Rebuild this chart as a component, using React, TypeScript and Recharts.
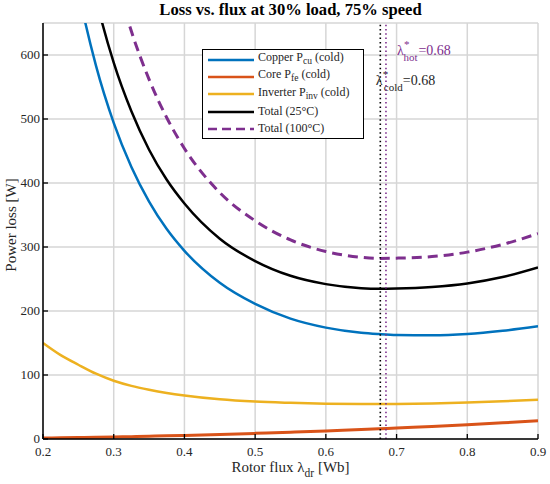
import React from 'react';
import { LineChart, Line, XAxis, YAxis, CartesianGrid, ReferenceLine, Legend } from 'recharts';

const flux = [0.2, 0.225, 0.25, 0.275, 0.3, 0.325, 0.35, 0.375, 0.4, 0.45, 0.5, 0.55, 0.6, 0.65, 0.675, 0.7, 0.75, 0.8, 0.85, 0.9];
const copperCold = [1086, 861, 701, 583, 494, 425, 371, 328, 294, 244, 211, 188, 174, 166, 164, 162.6, 162, 164, 169, 176];
const coreCold = [1.4, 1.8, 2.2, 2.6, 3.2, 3.7, 4.3, 4.9, 5.6, 7.1, 8.8, 10.6, 12.6, 14.8, 15.9, 17.2, 19.7, 22.4, 25.3, 28.5];
const inverterCold = [150, 131, 116, 102, 91, 83, 77, 72, 68, 62, 58.5, 56.5, 55, 54.5, 54.6, 54.8, 55.5, 57, 59, 61.5];
const total25 = [1237, 994, 819, 688, 588, 512, 452, 405, 368, 313, 278, 255, 242, 235.6, 234.6, 235, 237.5, 243, 253, 268];
const total100 = [1558, 1248, 1026, 860, 734, 637, 562, 502, 454, 385, 341, 311, 293, 284, 282.2, 282.6, 285, 292, 304, 321];

const xTicks = [0.2, 0.3, 0.4, 0.5, 0.6, 0.7, 0.8, 0.9];
const yTicks = [0, 100, 200, 300, 400, 500, 600];
const lambdaCold = 0.677;
const lambdaHot = 0.685;
const lambdaLabel = '=0.68';

const legendKeys = ['cu', 'fe', 'inv', 't25', 't100'];
const legendMain = ['Copper P', 'Core P', 'Inverter P', 'Total (25°C)', 'Total (100°C)'];
const legendSub = ['cu', 'fe', 'inv', '', ''];
const legendRest = [' (cold)', ' (cold)', ' (cold)', '', ''];

const data = flux.map((x, i) => ({
  x,
  cu: copperCold[i],
  fe: coreCold[i],
  inv: inverterCold[i],
  t25: total25[i],
  t100: total100[i],
}));

const FONT = '"Liberation Serif", "Times New Roman", serif';
const BLUE = '#0072BD';
const ORANGE = '#D95319';
const YELLOW = '#EDB120';
const PURPLE = '#7E2F8E';
const TEXT = '#262626';

const fmtX = (v: number) => (Math.round(v * 10) / 10).toFixed(1);

const BottomTick = (props: any) => {
  const { x, y, payload } = props;
  return (
    <g>
      <line x1={x} x2={x} y1={y} y2={y - 5} stroke="#000" strokeWidth={1.3} />
      <text x={x} y={y + 17} textAnchor="middle" fontSize={13} fontFamily={FONT} fill={TEXT} style={{ fontFamily: FONT }}>
        {fmtX(payload.value)}
      </text>
    </g>
  );
};

const TopTick = (props: any) => {
  const { x, y } = props;
  return <line x1={x} x2={x} y1={y} y2={y + 5} stroke="#000" strokeWidth={1.3} />;
};

const LeftTick = (props: any) => {
  const { x, y, payload } = props;
  return (
    <g>
      <line x1={x} x2={x + 5} y1={y} y2={y} stroke="#000" strokeWidth={1.3} />
      <text x={x - 3} y={y + 4} textAnchor="end" fontSize={13} fontFamily={FONT} fill={TEXT} style={{ fontFamily: FONT }}>
        {payload.value}
      </text>
    </g>
  );
};

const RightTick = (props: any) => {
  const { x, y } = props;
  return <line x1={x} x2={x - 5} y1={y} y2={y} stroke="#000" strokeWidth={1.3} />;
};

const XLabel = (props: any) => {
  const { viewBox } = props;
  const cx = viewBox.x + viewBox.width / 2;
  const y = viewBox.y + 33;
  return (
    <text x={cx} y={y} textAnchor="middle" fontSize={15} fill={TEXT} style={{ fontFamily: FONT }}>
      <tspan>Rotor flux λ</tspan>
      <tspan dy={5} fontSize={11.5}>dr</tspan>
      <tspan dy={-5}> [Wb]</tspan>
    </text>
  );
};

const YLabel = (props: any) => {
  const { viewBox } = props;
  const cx = viewBox.x + 16;
  const cy = viewBox.y + viewBox.height / 2 - 6;
  return (
    <text
      x={cx}
      y={cy}
      textAnchor="middle"
      fontSize={15}
      fill={TEXT}
      style={{ fontFamily: FONT }}
      transform={`rotate(-90 ${cx} ${cy})`}
    >
      Power loss [W]
    </text>
  );
};

const HotLabel = (props: any) => {
  const { viewBox } = props;
  const x = viewBox.x;
  const b = viewBox.y + 32;
  return (
    <g fill={PURPLE} style={{ fontFamily: FONT }}>
      <text x={x + 11} y={b} fontSize={14}>λ</text>
      <text x={x + 18} y={b - 7} fontSize={11}>*</text>
      <text x={x + 17.5} y={b + 6} fontSize={11}>hot</text>
      <text x={x + 32.5} y={b} fontSize={14}>{lambdaLabel}</text>
    </g>
  );
};

const ColdLabel = (props: any) => {
  const { viewBox } = props;
  const x = viewBox.x;
  const b = viewBox.y + 62;
  return (
    <g fill={TEXT} style={{ fontFamily: FONT }}>
      <text x={x - 4.5} y={b} fontSize={14}>λ</text>
      <text x={x + 2.5} y={b - 7} fontSize={11}>*</text>
      <text x={x + 3.5} y={b + 6} fontSize={11}>cold</text>
      <text x={x + 22.5} y={b} fontSize={14}>{lambdaLabel}</text>
    </g>
  );
};

const LegendBox = (props: any) => {
  const { payload } = props;
  const items = ((payload || []) as any[]).slice().sort(
    (a, b) => legendKeys.indexOf(a.dataKey) - legendKeys.indexOf(b.dataKey)
  );
  return (
    <div
      style={{
        boxSizing: 'border-box',
        width: 162,
        border: '1.5px solid #000',
        background: '#fff',
        padding: '1px 4px 1px 4px',
        fontFamily: FONT,
        fontSize: 12,
        color: TEXT,
        lineHeight: '17.3px',
        whiteSpace: 'nowrap',
      }}
    >
      {items.map((it) => {
        const i = legendKeys.indexOf(it.dataKey);
        return (
          <div key={it.dataKey} style={{ display: 'flex', alignItems: 'center', height: 17.3 }}>
            <svg width={48} height={10} style={{ marginRight: 3 }}>
              <line
                x1={1}
                x2={47}
                y1={5}
                y2={5}
                stroke={it.color}
                strokeWidth={2.5}
                strokeDasharray={it.dataKey === 't100' ? '9 5' : undefined}
              />
            </svg>
            <span>
              {legendMain[i]}
              {legendSub[i] ? <sub style={{ fontSize: 9.5, verticalAlign: -3 }}>{legendSub[i]}</sub> : null}
              {legendRest[i]}
            </span>
          </div>
        );
      })}
    </div>
  );
};

export default function App() {
  return (
    <div style={{ position: 'absolute', left: 0, top: 0, width: 550, height: 484, background: '#fff' }}>
      <div
        style={{
          position: 'absolute',
          left: 43,
          width: 495,
          top: 0,
          textAlign: 'center',
          fontFamily: FONT,
          fontWeight: 'bold',
          fontSize: 16.6,
          color: '#000',
          zIndex: 2,
        }}
      >
        Loss vs. flux at 30% load, 75% speed
      </div>
      <LineChart width={550} height={484} data={data} margin={{ top: 23, right: 12, bottom: 0, left: 0 }}>
        <CartesianGrid stroke="#d6d6d6" strokeWidth={1.5} />
        <XAxis
          dataKey="x"
          type="number"
          domain={[0.2, 0.9]}
          ticks={xTicks}
          allowDataOverflow
          height={45}
          tickSize={0}
          tickMargin={0}
          tickLine={false}
          tick={<BottomTick />}
          axisLine={{ stroke: '#000', strokeWidth: 1.5 }}
          label={<XLabel />}
        />
        <XAxis
          xAxisId="top"
          dataKey="x"
          type="number"
          orientation="top"
          domain={[0.2, 0.9]}
          ticks={xTicks}
          allowDataOverflow
          height={0}
          tickSize={0}
          tickMargin={0}
          tickLine={false}
          tick={<TopTick />}
          axisLine={{ stroke: '#000', strokeWidth: 1.5 }}
        />
        <YAxis
          type="number"
          domain={[0, 650]}
          ticks={yTicks}
          allowDataOverflow
          width={43}
          tickSize={0}
          tickMargin={0}
          tickLine={false}
          tick={<LeftTick />}
          axisLine={{ stroke: '#000', strokeWidth: 1.5 }}
          label={<YLabel />}
        />
        <YAxis
          yAxisId="right"
          type="number"
          orientation="right"
          domain={[0, 650]}
          ticks={yTicks}
          allowDataOverflow
          width={0}
          tickSize={0}
          tickMargin={0}
          tickLine={false}
          tick={<RightTick />}
          axisLine={{ stroke: '#000', strokeWidth: 1.5 }}
        />
        <Line dataKey="cu" name="Copper" type="monotone" stroke={BLUE} strokeWidth={2.5} dot={false} isAnimationActive={false} />
        <Line dataKey="fe" name="Core" type="monotone" stroke={ORANGE} strokeWidth={3} dot={false} isAnimationActive={false} />
        <Line dataKey="inv" name="Inverter" type="monotone" stroke={YELLOW} strokeWidth={2.5} dot={false} isAnimationActive={false} />
        <Line dataKey="t25" name="Total25" type="monotone" stroke="#000" strokeWidth={2.5} dot={false} isAnimationActive={false} />
        <Line
          dataKey="t100"
          name="Total100"
          type="monotone"
          stroke={PURPLE}
          strokeWidth={3}
          strokeDasharray="10 6"
          dot={false}
          isAnimationActive={false}
        />
        <ReferenceLine x={lambdaCold} stroke="#000" strokeWidth={1.6} strokeDasharray="1.5 2.8" label={<ColdLabel />} />
        <ReferenceLine x={lambdaHot} stroke={PURPLE} strokeWidth={1.6} strokeDasharray="1.5 2.8" label={<HotLabel />} />
        <Legend
          layout="vertical"
          align="center"
          verticalAlign="middle"
          content={<LegendBox />}
          wrapperStyle={{ left: 202, top: 49, width: 162, height: 'auto' }}
        />
      </LineChart>
    </div>
  );
}
